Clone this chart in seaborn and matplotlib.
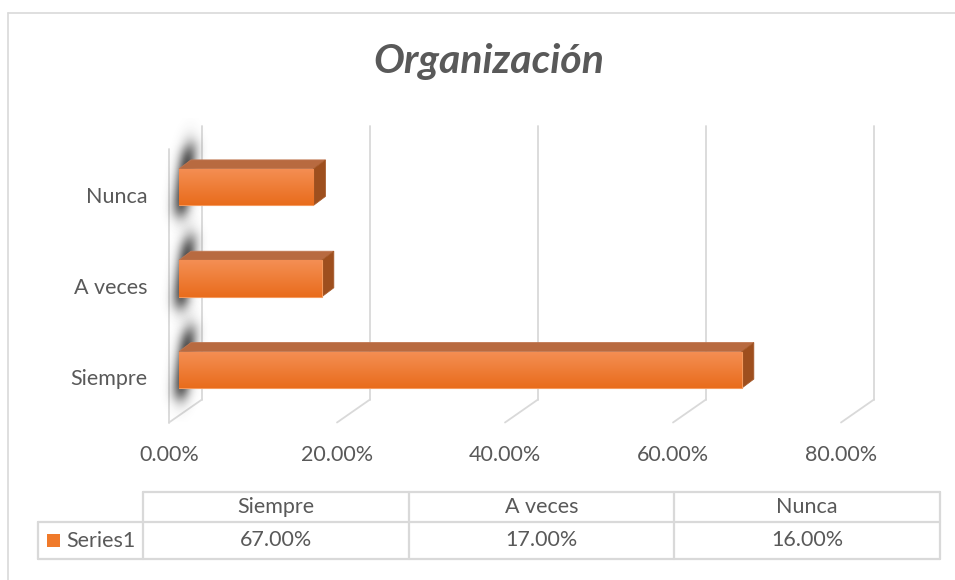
import numpy as np
import pandas as pd
import matplotlib
matplotlib.use("Agg")
import matplotlib.pyplot as plt
import seaborn as sns
from matplotlib.patches import Polygon, Rectangle

# ---- data ----
categories = ["Siempre", "A veces", "Nunca"]
values = [67.0, 17.0, 16.0]
series_name = "Series1"
x_ticks = [0, 20, 40, 60, 80]
x_tick_labels = ["0.00%", "20.00%", "40.00%", "60.00%", "80.00%"]
value_labels = ["67.00%", "17.00%", "16.00%"]
title = "Organización"

# bars listed top to bottom
bar_order = categories[::-1]

sns.set_theme(style="white")
plt.rcParams["font.family"] = ["Lato", "DejaVu Sans"]

TXT = "#595959"
GRID = "#D9D9D9"
FS = 15.5
W, H = 955, 580

fig = plt.figure(figsize=(W / 100, H / 100), dpi=100)
fig.patch.set_facecolor("white")


def rect_px(x0, y0, x1, y1):
    return [x0 / W, 1 - y1 / H, (x1 - x0) / W, (y1 - y0) / H]


# overlay for walls, shadows, 3D faces (pixel coordinates, y downward)
deco = fig.add_axes([0, 0, 1, 1], zorder=0)
deco.set_xlim(0, W)
deco.set_ylim(H, 0)
deco.set_axis_off()

# main plotting axes: front plane of the bars
ax = fig.add_axes(rect_px(179, 141.5, 851, 415.5), zorder=1)
ax.set_facecolor("none")

df = pd.DataFrame({"categoria": categories, "valor": values})
sns.barplot(data=df, x="valor", y="categoria", order=bar_order, orient="h",
            color="#F07A2A", saturation=1, width=0.4, ax=ax,
            edgecolor="#F49A5E", linewidth=0.8, zorder=3)

# vertical gradient on bar fronts
grad = np.linspace(0, 1, 64)[:, None]
c_top = np.array([244, 143, 84]) / 255
c_bot = np.array([233, 108, 28]) / 255
grad_rgb = (c_top[None, None, :] * (1 - grad[..., None]) + c_bot[None, None, :] * grad[..., None])
grad_rgb = np.repeat(grad_rgb, 2, axis=1)
for p in ax.patches:
    x0, y0, w, h = p.get_x(), p.get_y(), p.get_width(), p.get_height()
    im = ax.imshow(grad_rgb, extent=(x0, x0 + w, y0 + h, y0), origin="upper",
                   aspect="auto", zorder=3.5, interpolation="bilinear")
    im.set_clip_path(p)

ax.set_xlim(0, 80)
ax.set_ylim(2.5, -0.5)
ax.set_axis_off()


def to_img(xd, yd):
    dx, dy = ax.transData.transform((xd, yd))
    return dx, H - dy


# depth offsets (image pixels)
BACK = (23, -16)
FRONT = (-10, 7)
BAR_D = (12, -9)

y_top, y_bot = -0.5, 2.5
for t in x_ticks:
    bx, by = to_img(t, y_bot)
    tx, ty = to_img(t, y_top)
    deco.plot([bx + BACK[0], tx + BACK[0]], [by + BACK[1], ty + BACK[1]],
              color=GRID, lw=1.3, zorder=1)
    deco.plot([bx + BACK[0], bx + FRONT[0]], [by + BACK[1], by + FRONT[1]],
              color=GRID, lw=1.3, zorder=1)

# left side wall front edge
lx, ly = to_img(0, y_bot)
ltx, lty = to_img(0, y_top)
deco.plot([lx + FRONT[0], ltx + FRONT[0]], [ly + FRONT[1], lty + FRONT[1]],
          color=GRID, lw=1.3, zorder=1)

# soft shadows of bar ends on the side wall, and 3D top/side faces
for p in ax.patches:
    x0, y0, w, h = p.get_x(), p.get_y(), p.get_width(), p.get_height()
    L, T = to_img(x0, y0)
    R, B = to_img(x0 + w, y0 + h)

    sx0, sx1 = L - 22, L + 34
    sy0, sy1 = T - 50, B + 34
    nx, ny = int(sx1 - sx0), int(sy1 - sy0)
    xs = np.linspace(sx0, sx1, nx)
    ys = np.linspace(sy0, sy1, ny)
    XX, YY = np.meshgrid(xs, ys)
    frac = np.clip((B + 12 - YY) / (B - T + 38), 0, 1)
    xc = L + 1 + 10 * frac ** 1.3
    x_prof = np.exp(-0.5 * ((XX - xc) / 6.5) ** 2)
    top_e = 1 / (1 + np.exp(-(YY - (T - 22)) / 6.0))
    bot_e = 1 / (1 + np.exp((YY - (B + 10)) / 5.0))
    alpha = 0.9 * x_prof * top_e * bot_e
    rgba = np.zeros(XX.shape + (4,))
    rgba[..., :3] = 0.2
    rgba[..., 3] = alpha
    deco.imshow(rgba, extent=(sx0, sx1, sy1, sy0), origin="upper",
                aspect="auto", zorder=2, interpolation="bilinear")

    top_face = Polygon([(L, T), (R, T), (R + BAR_D[0], T + BAR_D[1]),
                        (L + BAR_D[0], T + BAR_D[1])], closed=True,
                       facecolor="#B86A40", edgecolor="#C07650", lw=0.6, zorder=3)
    side_face = Polygon([(R, B), (R, T), (R + BAR_D[0], T + BAR_D[1]),
                         (R + BAR_D[0], B + BAR_D[1])], closed=True,
                        facecolor="#9E4F1E", edgecolor="#A65A2A", lw=0.6, zorder=3)
    deco.add_patch(top_face)
    deco.add_patch(side_face)

deco.set_xlim(0, W)
deco.set_ylim(H, 0)

# axis labels
for t, lab in zip(x_ticks, x_tick_labels):
    bx, by = to_img(t, y_bot)
    deco.text(bx + FRONT[0], 455, lab, ha="center", va="center",
              fontsize=FS, color=TXT, zorder=5)
for i, cat in enumerate(bar_order):
    cx, cy = to_img(0, i)
    deco.text(147, cy + 9.5, cat, ha="right", va="center",
              fontsize=FS, color=TXT, zorder=5)

# title
fig.text(489 / W, 1 - 61 / H, title, ha="center", va="center", fontsize=29.5,
         fontweight="bold", style="italic", color=TXT)

# chart frame
deco.plot([8, W], [13, 13], color=GRID, lw=1.2, zorder=1)
deco.plot([8, 8], [13, H], color=GRID, lw=1.2, zorder=1)

# data table
col_edges = [38, 143, 408.7, 674.3, 940]
row_edges = [492, 522, 559]
lk = dict(color=GRID, lw=1.6, zorder=4)
deco.plot([col_edges[1], col_edges[-1]], [row_edges[0], row_edges[0]], **lk)
deco.plot([col_edges[0], col_edges[-1]], [row_edges[1], row_edges[1]], **lk)
deco.plot([col_edges[0], col_edges[-1]], [row_edges[2], row_edges[2]], **lk)
deco.plot([col_edges[0], col_edges[0]], [row_edges[1], row_edges[2]], **lk)
for xe in col_edges[1:]:
    deco.plot([xe, xe], [row_edges[0], row_edges[2]], **lk)

for j, (cat, vl) in enumerate(zip(categories, value_labels)):
    xc = (col_edges[j + 1] + col_edges[j + 2]) / 2
    deco.text(xc, (row_edges[0] + row_edges[1]) / 2, cat, ha="center",
              va="center", fontsize=FS, color=TXT, zorder=5)
    deco.text(xc, (row_edges[1] + row_edges[2]) / 2, vl, ha="center",
              va="center", fontsize=FS, color=TXT, zorder=5)

deco.add_patch(Rectangle((47, 534), 13, 13, facecolor="#F07A2A",
                         edgecolor="none", zorder=5))
deco.text(66, 541, series_name, ha="left", va="center", fontsize=FS,
          color=TXT, zorder=5)

fig.savefig("out.png", dpi=100, facecolor="white")
